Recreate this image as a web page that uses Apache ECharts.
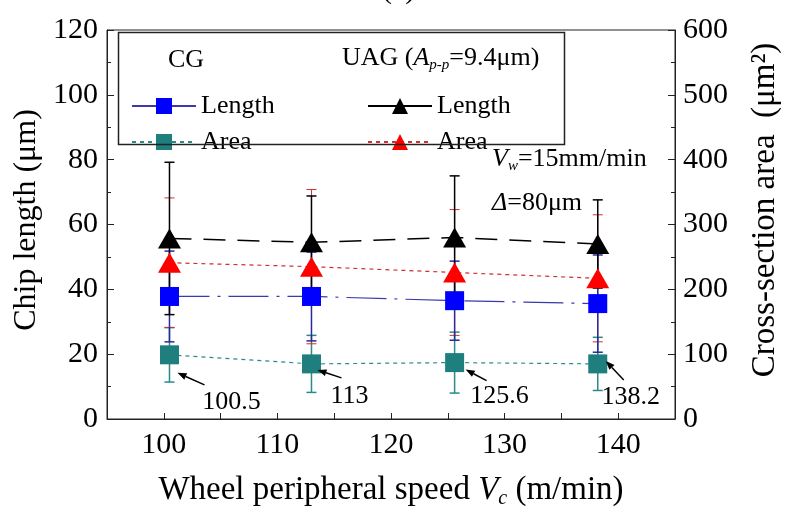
<!DOCTYPE html>
<html><head><meta charset="utf-8">
<script src="https://cdn.jsdelivr.net/npm/echarts@6/dist/echarts.min.js"></script>
<style>html,body{margin:0;padding:0;background:#fff}#c{width:789px;height:514px}</style>
</head><body><div id="c"></div>
<script>
// ---- data ----
const speeds = [100.5, 113, 125.6, 138.2];
const speedLabels = ['100.5', '113', '125.6', '138.2'];
const cgLength = [37.8, 37.8, 36.5, 35.6];
const cgLengthErr = [14, 13.7, 12.2, 15];
const uagLength = [55.7, 54.5, 56, 54];
const uagLengthErr = [23.5, 14.3, 19, 13.6];
const cgArea = [99, 85, 87, 85];
const cgAreaErr = [42, 44, 47, 41];
const uagArea = [241, 235, 226, 217];
const uagAreaErr = [100, 119, 97, 98];
const leftTicks = [0, 20, 40, 60, 80, 100, 120];
const rightTicks = [0, 100, 200, 300, 400, 500, 600];
const xTicks = [100, 110, 120, 130, 140];

// ---- styling / layout ----
const FONT = 'Liberation Serif';
const arrowOffsets = [
  {tip: [8, 18], tail: [35, 30], label: [62, 47]},
  {tip: [6, 6], tail: [30, 14], label: [38, 32]},
  {tip: [11, 7], tail: [32, 18], label: [45, 34]},
  {tip: [8, -3], tail: [26, 16], label: [33, 33]}
];

const chart = echarts.init(document.getElementById('c'));

function pts(ys) { return speeds.map((s, i) => [s, ys[i]]); }
function errPts(ys, es) { return speeds.map((s, i) => [s, ys[i], es[i]]); }

function errRender(color, width) {
  return function (params, api) {
    const x = api.value(0), y = api.value(1), e = api.value(2);
    const t = api.coord([x, y + e]), b = api.coord([x, y - e]);
    const cw = 5;
    const style = {stroke: color, lineWidth: width};
    return {type: 'group', children: [
      {type: 'line', shape: {x1: t[0], y1: t[1], x2: b[0], y2: b[1]}, style},
      {type: 'line', shape: {x1: t[0] - cw, y1: t[1], x2: t[0] + cw, y2: t[1]}, style},
      {type: 'line', shape: {x1: b[0] - cw, y1: b[1], x2: b[0] + cw, y2: b[1]}, style}
    ]};
  };
}

function arrowRender(params, api) {
  const i = params.dataIndex;
  const p = api.coord([api.value(0), api.value(1)]);
  const o = arrowOffsets[i];
  const tip = [p[0] + o.tip[0], p[1] + o.tip[1]];
  const tail = [p[0] + o.tail[0], p[1] + o.tail[1]];
  const dx = tip[0] - tail[0], dy = tip[1] - tail[1];
  const L = Math.sqrt(dx * dx + dy * dy), ux = dx / L, uy = dy / L;
  const hl = 9, hw = 3.5;
  const base = [tip[0] - ux * hl, tip[1] - uy * hl];
  return {type: 'group', children: [
    {type: 'line', shape: {x1: tail[0], y1: tail[1], x2: base[0], y2: base[1]}, style: {stroke: '#000', lineWidth: 1.5}},
    {type: 'polygon', shape: {points: [tip, [base[0] - uy * hw, base[1] + ux * hw], [base[0] + uy * hw, base[1] - ux * hw]]}, style: {fill: '#000'}},
    {type: 'text', x: p[0] + o.label[0], y: p[1] + o.label[1], style: {text: speedLabels[i], font: '26px ' + FONT, fill: '#000', align: 'center', verticalAlign: 'middle'}}
  ]};
}

const axisLabelStyle = {color: '#000', fontFamily: FONT, fontSize: 30};
const legendText = {fontFamily: FONT, fontSize: 26, color: '#000'};

const option = {
  animation: false,
  backgroundColor: '#fff',
  grid: {left: 107, right: 114, top: 30, bottom: 90, show: true, borderColor: '#222', borderWidth: 1},
  xAxis: {
    type: 'value', min: 95, max: 145, interval: 5,
    name: '{n|Wheel peripheral speed }{i|V}{s|c}{n| (m/min)}',
    nameLocation: 'middle', nameGap: 52,
    nameTextStyle: {rich: {
      n: {fontFamily: FONT, fontSize: 33, color: '#000', lineHeight: 38, verticalAlign: 'middle'},
      i: {fontFamily: FONT, fontSize: 33, fontStyle: 'italic', color: '#000', lineHeight: 38, verticalAlign: 'middle'},
      s: {fontFamily: FONT, fontSize: 20, fontStyle: 'italic', color: '#000', lineHeight: 20, verticalAlign: 'bottom'}
    }},
    axisLine: {lineStyle: {color: '#222', width: 1}},
    axisTick: {inside: true, length: 6, lineStyle: {color: '#222'}},
    axisLabel: Object.assign({margin: 11, formatter: v => xTicks.indexOf(v) >= 0 ? String(v) : ''}, axisLabelStyle),
    splitLine: {show: false}
  },
  yAxis: [{
    type: 'value', min: 0, max: 120, interval: 20, position: 'left',
    axisLine: {show: true, lineStyle: {color: '#222'}},
    axisTick: {inside: true, length: 7, lineStyle: {color: '#222'}},
    minorTick: {show: true, splitNumber: 2, length: 4, lineStyle: {color: '#222'}},
    axisLabel: Object.assign({margin: 9, formatter: v => leftTicks.indexOf(v) >= 0 ? String(v) : ''}, axisLabelStyle),
    splitLine: {show: false}
  }, {
    type: 'value', min: 0, max: 600, interval: 100, position: 'right',
    axisLine: {show: true, lineStyle: {color: '#222'}},
    axisTick: {inside: true, length: 7, lineStyle: {color: '#222'}},
    minorTick: {show: true, splitNumber: 2, length: 4, lineStyle: {color: '#222'}},
    axisLabel: Object.assign({margin: 8, formatter: v => rightTicks.indexOf(v) >= 0 ? String(v) : ''}, axisLabelStyle),
    splitLine: {show: false}
  }],
  legend: [{
    data: [{name: 'CG Length', lineStyle: {type: 'solid'}}, {name: 'CG Area'}], orient: 'vertical', left: 126, top: 88,
    itemWidth: 64, itemHeight: 20, itemGap: 10,
    formatter: n => n.replace('CG ', ''),
    textStyle: legendText
  }, {
    data: [{name: 'UAG Length', lineStyle: {type: 'solid'}}, {name: 'UAG Area'}], orient: 'vertical', left: 362, top: 88,
    itemWidth: 64, itemHeight: 20, itemGap: 10,
    formatter: n => n.replace('UAG ', ''),
    textStyle: legendText
  }],
  graphic: [
    {type: 'rect', left: 116, top: 30, shape: {width: 446, height: 112}, style: {fill: 'none', stroke: '#222', lineWidth: 1.5}, z: 10},
    {type: 'text', left: 168, top: 47, style: {text: 'CG', font: '26px ' + FONT, fill: '#000'}, z: 10},
    {type: 'text', left: 342, top: 45, style: {
      text: '{n|UAG (}{i|A}{s|p-p}{n|=9.4μm)}',
      rich: {
        n: {fontFamily: FONT, fontSize: 26, fill: '#000', lineHeight: 30, verticalAlign: 'middle'},
        i: {fontFamily: FONT, fontSize: 26, fontStyle: 'italic', fill: '#000', lineHeight: 30, verticalAlign: 'middle'},
        s: {fontFamily: FONT, fontSize: 15, fontStyle: 'italic', fill: '#000', lineHeight: 14, verticalAlign: 'bottom'}
      }}, z: 10},
    {type: 'text', left: 492, top: 146, style: {
      text: '{i|V}{s|w}{n|=15mm/min}',
      rich: {
        n: {fontFamily: FONT, fontSize: 26, fill: '#000', lineHeight: 30, verticalAlign: 'middle'},
        i: {fontFamily: FONT, fontSize: 26, fontStyle: 'italic', fill: '#000', lineHeight: 30, verticalAlign: 'middle'},
        s: {fontFamily: FONT, fontSize: 15, fontStyle: 'italic', fill: '#000', lineHeight: 14, verticalAlign: 'bottom'}
      }}, z: 10},
    {type: 'text', left: 492, top: 190, style: {
      text: '{i|Δ}{n|=80μm}',
      rich: {
        n: {fontFamily: FONT, fontSize: 26, fill: '#000'},
        i: {fontFamily: FONT, fontSize: 26, fontStyle: 'italic', fill: '#000'}
      }}, z: 10},
    {type: 'text', x: 27, y: 220, rotation: Math.PI / 2, style: {text: 'Chip length (μm)', font: '32px ' + FONT, fill: '#000', align: 'center', verticalAlign: 'middle'}, z: 10},
    {type: 'text', x: 765, y: 210, rotation: Math.PI / 2, style: {text: 'Cross-section area  (μm²)', font: '33px ' + FONT, fill: '#000', align: 'center', verticalAlign: 'middle'}, z: 10},
    {type: 'text', left: 382, top: -25, style: {text: '(a)', font: '30px ' + FONT, fill: '#000'}, z: 10}
  ],
  series: [
    {type: 'custom', name: 'eCGA', yAxisIndex: 1, data: errPts(cgArea, cgAreaErr), renderItem: errRender('#2a8a8a', 1.5), encode: {x: 0, y: 1}, z: 1, silent: true},
    {type: 'custom', name: 'eUAGA', yAxisIndex: 1, data: errPts(uagArea, uagAreaErr), renderItem: errRender('#d03030', 1), encode: {x: 0, y: 1}, z: 1, silent: true},
    {type: 'custom', name: 'eCGL', yAxisIndex: 0, data: errPts(cgLength, cgLengthErr), renderItem: errRender('#2a2a9a', 1.5), encode: {x: 0, y: 1}, z: 1, silent: true},
    {type: 'custom', name: 'eUAGL', yAxisIndex: 0, data: errPts(uagLength, uagLengthErr), renderItem: errRender('#000', 1.5), encode: {x: 0, y: 1}, z: 1, silent: true},
    {type: 'line', name: 'CG Length', yAxisIndex: 0, data: pts(cgLength), symbol: 'rect', symbolSize: 19,
      itemStyle: {color: '#0000ff'}, lineStyle: {color: '#3a3aa8', width: 1.2, type: [40, 8, 3, 8]}, z: 3},
    {type: 'line', name: 'CG Area', yAxisIndex: 1, data: pts(cgArea), symbol: 'rect', symbolSize: 19,
      itemStyle: {color: '#1f7f7f'}, lineStyle: {color: '#2a8a8a', width: 1.2, type: [4, 4]}, z: 3},
    {type: 'line', name: 'UAG Length', yAxisIndex: 0, data: pts(uagLength), symbol: 'triangle', symbolSize: [23, 20],
      itemStyle: {color: '#000'}, lineStyle: {color: '#000', width: 1.5, type: [22, 12]}, z: 3},
    {type: 'line', name: 'UAG Area', yAxisIndex: 1, data: pts(uagArea), symbol: 'triangle', symbolSize: [23, 20],
      itemStyle: {color: '#ff0000'}, lineStyle: {color: '#d03030', width: 1.2, type: [4, 4]}, z: 3},
    {type: 'custom', name: 'arrows', yAxisIndex: 1, data: pts(cgArea), renderItem: arrowRender, encode: {x: 0, y: 1}, z: 5, silent: true, clip: false}
  ]
};
chart.setOption(option);
</script>
</body></html>
